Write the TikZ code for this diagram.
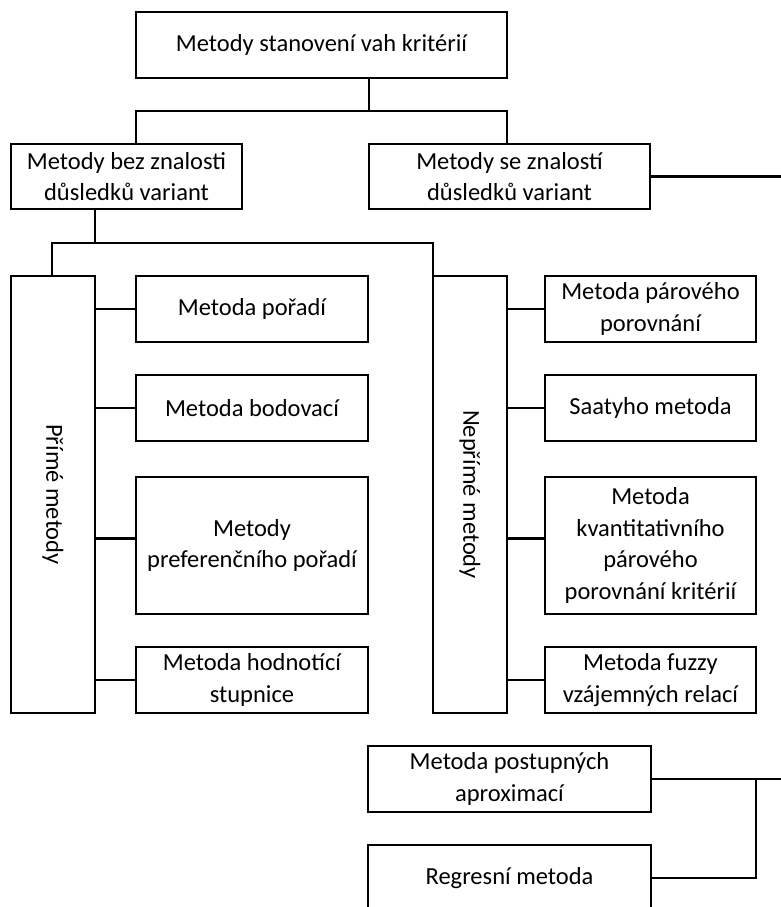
\documentclass[tikz,border=0pt]{standalone}
\usepackage{fontspec}
\setmainfont{Carlito}
\begin{document}
\begin{tikzpicture}[x=1pt,y=-1pt,line width=2.2pt,
  bx/.style={draw,rectangle,inner sep=0pt,outer sep=0pt,align=center,
    font=\fontsize{24.5}{31.5}\selectfont},
  conn/.style={draw,line cap=rect}]
\useasboundingbox (0,0) rectangle (781,907);
\begin{scope}
\clip (0,0) rectangle (781,907);
% top level
\node[bx,minimum width=371,minimum height=66] (title) at (321.5,45) {Metody stanovení vah kritérií};
\node[bx,minimum width=231,minimum height=65] (A) at (126.5,176.5) {Metody bez znalosti\\důsledků variant};
\node[bx,minimum width=281,minimum height=65] (B) at (509.5,176.5) {Metody se znalostí\\důsledků variant};
% side boxes
\node[bx,minimum width=84,minimum height=437] (prime) at (53,494.5) {};
\node[rotate=-90,font=\fontsize{24.5}{31.5}\selectfont] (primeT) at (prime.center) {Přímé metody};
\node[bx,minimum width=74,minimum height=437] (nprime) at (470,494.5) {};
\node[rotate=-90,font=\fontsize{24.5}{31.5}\selectfont] (nprimeT) at (nprime.center) {Nepřímé metody};
% left column
\node[bx,minimum width=232,minimum height=66] (L1) at (252,309) {Metoda pořadí};
\node[bx,minimum width=232,minimum height=66] (L2) at (252,408) {Metoda bodovací};
\node[bx,minimum width=232,minimum height=137] (L3) at (252,545.5) {Metody\\preferenčního pořadí};
\node[bx,minimum width=232,minimum height=66] (L4) at (252,680) {Metoda hodnotící\\stupnice};
% right column
\node[bx,minimum width=211,minimum height=66] (R1) at (650.5,309) {Metoda párového\\porovnání};
\node[bx,minimum width=211,minimum height=66] (R2) at (650.5,408) {Saatyho metoda};
\node[bx,minimum width=211,minimum height=137] (R3) at (650.5,545.5) {Metoda\\kvantitativního\\párového\\porovnání kritérií};
\node[bx,minimum width=211,minimum height=66] (R4) at (650.5,680) {Metoda fuzzy\\vzájemných relací};
% bottom
\node[bx,minimum width=283,minimum height=66] (P1) at (509.5,779) {Metoda postupných\\aproximací};
\node[bx,minimum width=283,minimum height=66] (P2) at (509.5,878) {Regresní metoda};
% coordinates
\coordinate (h1l) at (136,111);
\coordinate (h1r) at (507,111);
\coordinate (h2l) at (52,243);
\coordinate (h2r) at (433,243);
\coordinate (redge) at (781,0);
\coordinate (vb) at (756,779);
% connectors
\draw[conn] (title.south -| B.west) -- (B.west |- h1l);
\draw[conn] (A.north -| h1l) -- (h1l) -- (h1r) -- (B.north -| h1r);
\draw[conn] (B.east) -- (B.east -| redge);
\draw[conn] (A.south -| prime.east) -- (prime.east |- h2l);
\draw[conn] (prime.north -| h2l) -- (h2l) -- (h2r) -- (nprime.north west);
\draw[conn] (prime.east |- L1.west) -- (L1.west);
\draw[conn] (prime.east |- L2.west) -- (L2.west);
\draw[conn] ([yshift=7pt]prime.east |- L3.west) -- ([yshift=7pt]L3.west);
\draw[conn] (prime.east |- L4.west) -- (L4.west);
\draw[conn] (nprime.east |- R1.west) -- (R1.west);
\draw[conn] (nprime.east |- R2.west) -- (R2.west);
\draw[conn] ([yshift=7pt]nprime.east |- R3.west) -- ([yshift=7pt]R3.west);
\draw[conn] (nprime.east |- R4.west) -- (R4.west);
\draw[conn] (P1.east) -- (P1.east -| redge);
\draw[conn] (vb) -- (vb |- P2.east) -- (P2.east);
\end{scope}
\end{tikzpicture}
\end{document}
